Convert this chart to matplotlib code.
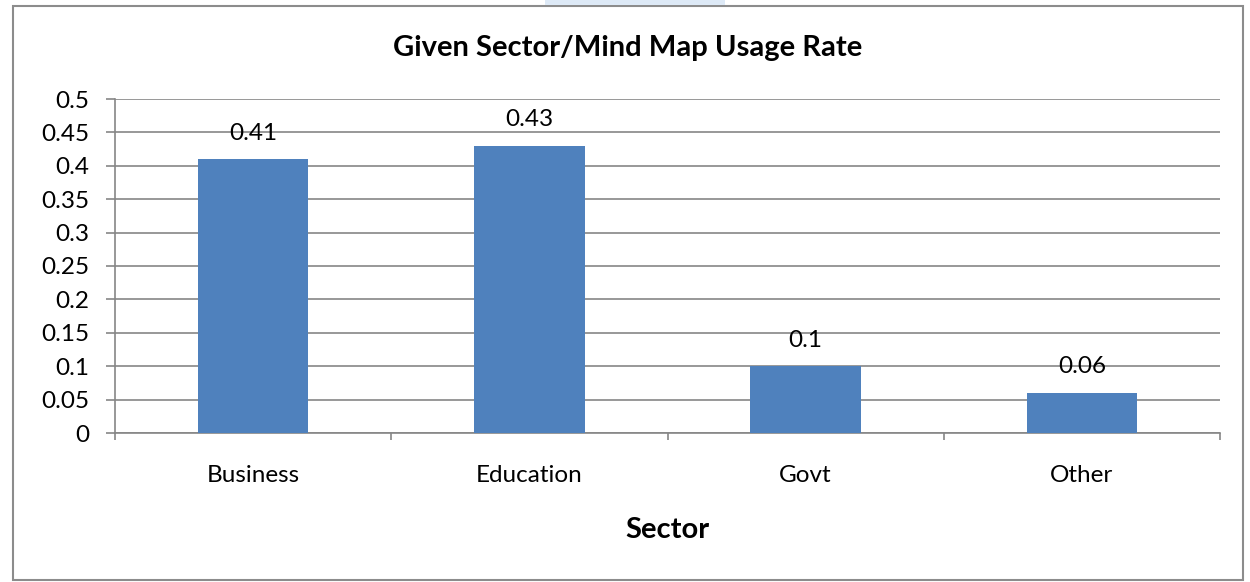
import matplotlib
matplotlib.use("Agg")
import matplotlib.pyplot as plt
from matplotlib.patches import Rectangle

categories = ["Business", "Education", "Govt", "Other"]
values = [0.41, 0.43, 0.1, 0.06]
value_labels = ["0.41", "0.43", "0.1", "0.06"]
yticks = [0, 0.05, 0.1, 0.15, 0.2, 0.25, 0.3, 0.35, 0.4, 0.45, 0.5]
ytick_labels = ["0", "0.05", "0.1", "0.15", "0.2", "0.25", "0.3", "0.35", "0.4", "0.45", "0.5"]

plt.rcParams['font.family'] = ['Lato', 'DejaVu Sans']

W, H = 1250, 582
fig = plt.figure(figsize=(W / 100, H / 100), dpi=100)
fig.patch.set_facecolor("white")

# outer frame
fig.add_artist(Rectangle((13 / W, 1 - 580 / H), (1243 - 13) / W, (580 - 6) / H,
                         transform=fig.transFigure, fill=False,
                         edgecolor="#8c8c8c", linewidth=1.5))
# faint artifact at top
fig.add_artist(Rectangle((545 / W, 1 - 5 / H), 180 / W, 5 / H,
                         transform=fig.transFigure, facecolor="#dde9f6",
                         edgecolor="none"))

left, right, top, bottom = 115, 1220, 99, 433
ax = fig.add_axes([left / W, 1 - bottom / H, (right - left) / W, (bottom - top) / H])

x = list(range(len(categories)))
ax.bar(x, values, width=0.4, color="#4f81bd", zorder=3)
for xi, v, lab in zip(x, values, value_labels):
    ax.text(xi, v + 0.039, lab, ha="center", va="center", fontsize=17.5, color="#000000")

ax.set_xlim(-0.5, len(categories) - 0.5)
ax.set_ylim(0, 0.5)
ax.set_yticks(yticks)
ax.set_yticklabels(ytick_labels, fontsize=17.5)
ax.yaxis.grid(True, color="#868686", linewidth=1.2, zorder=0)
ax.set_axisbelow(True)

ax.set_xticks(x)
ax.set_xticklabels(categories, fontsize=17.5)
ax.set_xticks([i - 0.5 for i in range(len(categories) + 1)], minor=True)
ax.tick_params(axis="x", which="major", length=0, pad=23)
ax.tick_params(axis="x", which="minor", length=5, color="#868686", width=1.2)
ax.tick_params(axis="y", length=6.5, color="#868686", width=1.2, pad=12)

for s in ["top", "right"]:
    ax.spines[s].set_visible(False)
for s in ["left", "bottom"]:
    ax.spines[s].set_color("#868686")
    ax.spines[s].set_linewidth(1.2)

fig.text(628 / W, 1 - 48 / H, "Given Sector/Mind Map Usage Rate", ha="center", va="center",
         fontsize=21, fontweight="bold")
fig.text(667 / W, 1 - 530 / H, "Sector", ha="center", va="center",
         fontsize=21, fontweight="bold")

fig.savefig("out.png", dpi=100)
